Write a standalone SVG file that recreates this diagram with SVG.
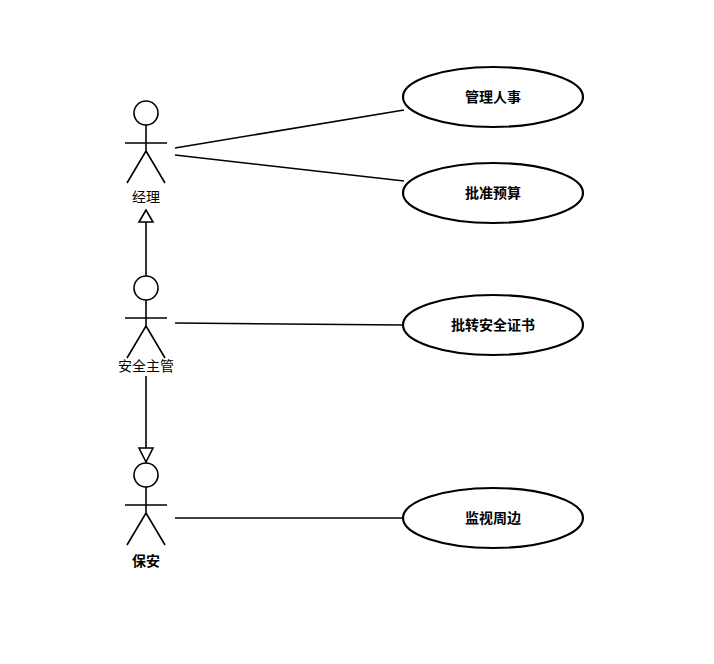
<svg xmlns="http://www.w3.org/2000/svg" width="714" height="664" viewBox="0 0 714 664">
<style>
.s{fill:none;stroke:#000;stroke-width:1.6}
.e{fill:#fff;stroke:#000;stroke-width:2.2}
.t{font-family:"Noto Sans CJK SC",sans-serif;font-size:14px;fill:#000;text-anchor:middle}
.b{font-weight:bold}
</style>
<rect width="714" height="664" fill="#fff"/>
<defs>
<g id="actor"><circle class="s" cx="0" cy="0" r="12"/><path class="s" d="M0 12V38M-21 30H21M0 38L-19 70M0 38L19 70"/></g>
</defs>
<g id="connectors">
<path class="s" d="M175 148L404 110M175 155L404 181M175 323L403 325M175 518L403 518"/>
<path class="s" d="M146 222V276M146 376V448"/>
<polygon class="s" fill="#fff" points="146,210 139,222 153,222"/>
<polygon class="s" fill="#fff" points="146,462 139,448 153,448"/>
</g>
<g id="manager"><use href="#actor" x="146" y="113"/><text class="t" x="146" y="202">经理</text></g>
<g id="secmgr"><use href="#actor" x="146" y="288"/><text class="t" x="146" y="371">安全主管</text></g>
<g id="guard"><use href="#actor" x="146" y="475"/><text class="t b" x="146" y="566">保安</text></g>
<g id="uc1"><ellipse class="e" cx="493" cy="97" rx="90" ry="30"/><text class="t b" x="493" y="102">管理人事</text></g>
<g id="uc2"><ellipse class="e" cx="493" cy="193" rx="90" ry="30"/><text class="t b" x="493" y="198">批准预算</text></g>
<g id="uc3"><ellipse class="e" cx="493" cy="325" rx="90" ry="30"/><text class="t b" x="493" y="330">批转安全证书</text></g>
<g id="uc4"><ellipse class="e" cx="493" cy="518" rx="90" ry="30"/><text class="t b" x="493" y="523">监视周边</text></g>
</svg>
